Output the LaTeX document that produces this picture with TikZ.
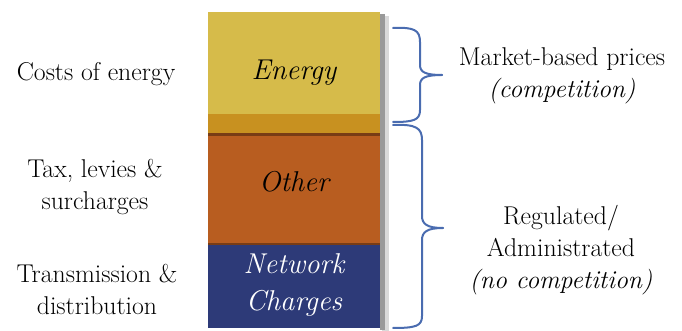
\documentclass[tikz,border=0pt]{standalone}
\usepackage{fontspec}
\definecolor{energyYellow}{RGB}{214,187,74}
\definecolor{bandGold}{RGB}{200,145,32}
\definecolor{otherOrange}{RGB}{184,93,32}
\definecolor{netBlue}{RGB}{45,58,120}
\definecolor{braceBlue}{RGB}{74,108,176}
\tikzset{every picture/.style={line width=0.75pt}}
\tikzset{
  sidetext/.style={inner sep=0.75pt, align=center, font=\fontsize{19.3}{24}\selectfont},
  blocktext/.style={inner sep=0.75pt, align=center, font=\fontsize{21.5}{27.5}\selectfont\itshape},
  brace/.style={draw=braceBlue, line width=1.5pt, line cap=round, line join=round}
}
\begin{document}
\begin{tikzpicture}[x=0.75pt,y=0.75pt,yscale=-1,xscale=1]
\useasboundingbox (0,0) rectangle (682,331);

%Shape: Shadow
\fill [black!15] (382,16) rectangle (389,331) ;
\fill [black!40] (380,14) rectangle (385,330) ;
%Shape: Rectangle [id:energy]
\fill [energyYellow] (208,12) rectangle (380,114) ;
%Shape: Rectangle [id:band]
\fill [bandGold] (208,114) rectangle (380,134) ;
%Shape: Rectangle [id:other]
\fill [otherOrange] (208,134) rectangle (380,244) ;
\fill [otherOrange!65!black] (208,133) rectangle (380,136) ;
\fill [otherOrange!65!black] (208,243) rectangle (380,245) ;
%Shape: Rectangle [id:network]
\fill [netBlue] (208,245) rectangle (380,328) ;

%Curve Lines [id:upper brace]
\draw [brace] (393,28) .. controls (414,27) and (420,30) .. (420,42) -- (420,65) .. controls (420,72) and (425,75) .. (442,75) ;
\draw [brace] (442,75) .. controls (425,75) and (420,78) .. (420,85) -- (420,110) .. controls (420,120) and (414,122) .. (393,122) ;
%Curve Lines [id:lower brace]
\draw [brace] (393,125) .. controls (416,124) and (422,128) .. (422,140) -- (422,216) .. controls (422,224) and (427,228) .. (443,228) ;
\draw [brace] (443,228) .. controls (427,228) and (422,232) .. (422,240) -- (422,316) .. controls (422,326) and (416,328) .. (393,328) ;

% Text Node
\node [blocktext] (energy) at (294,73) {Energy};
% Text Node
\node [blocktext] (other) at (294,182) {Other};
% Text Node
\node [blocktext, text=white] (network) at (294,285) {Network\\Charges};

% Text Node
\node [sidetext] (costs) at (96,74) {Costs of energy};
% Text Node
\node [sidetext] (tax) at (95,187) {Tax, levies \&\\surcharges};
% Text Node
\node [sidetext] (trans) at (97,289) {Transmission \&\\distribution};

% Text Node
\node [sidetext] (market) at (562,76) {Market-based prices\\\textit{(competition)}};
% Text Node
\node [sidetext] (regulated) at (561,250) {Regulated/\\Administrated\\\textit{(no competition)}};

\end{tikzpicture}
\end{document}
